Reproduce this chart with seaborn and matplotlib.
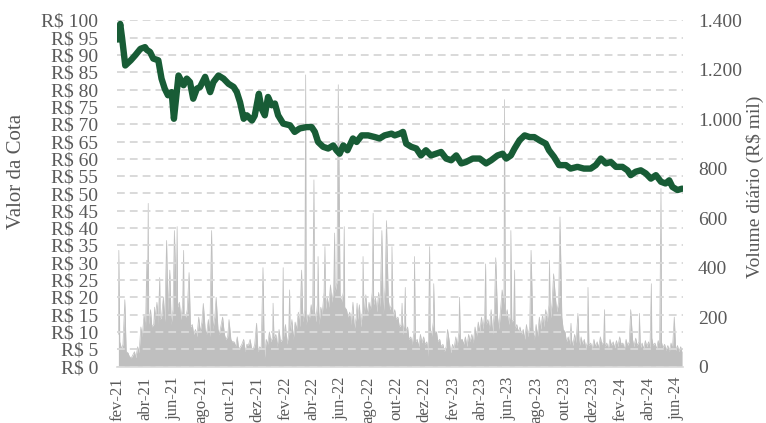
import numpy as np
import pandas as pd
import matplotlib
matplotlib.use("Agg")
import matplotlib.pyplot as plt
import seaborn as sns

# ---------------- data ----------------
price_dates = [
    "2021-02-01", "2021-02-06", "2021-02-10", "2021-02-17", "2021-03-01", "2021-03-11", "2021-03-22",
    "2021-04-01", "2021-04-05", "2021-04-12", "2021-04-19", "2021-04-30", "2021-05-07", "2021-05-14",
    "2021-05-21", "2021-05-29", "2021-06-03", "2021-06-13", "2021-06-24", "2021-07-01", "2021-07-08",
    "2021-07-15", "2021-07-23", "2021-07-30", "2021-08-10", "2021-08-21", "2021-08-28", "2021-09-08",
    "2021-09-19", "2021-09-30", "2021-10-11", "2021-10-18", "2021-10-25", "2021-11-02", "2021-11-09",
    "2021-11-20", "2021-11-26",
    "2021-12-05", "2021-12-11", "2021-12-18", "2021-12-25", "2022-01-02", "2022-01-09", "2022-01-16",
    "2022-01-27", "2022-02-11", "2022-02-21", "2022-03-04", "2022-03-19", "2022-03-30", "2022-04-06",
    "2022-04-13", "2022-04-24", "2022-05-05", "2022-05-16", "2022-05-23", "2022-05-30", "2022-06-07",
    "2022-06-16", "2022-06-28", "2022-07-06", "2022-07-17", "2022-07-31", "2022-08-15", "2022-08-25",
    "2022-09-05", "2022-09-20", "2022-09-27", "2022-10-08",
    "2022-10-15", "2022-10-22", "2022-11-02", "2022-11-13", "2022-11-23", "2022-12-04", "2022-12-15",
    "2022-12-26", "2023-01-06", "2023-01-17", "2023-01-28", "2023-02-08", "2023-02-19", "2023-03-01",
    "2023-03-16", "2023-03-31", "2023-04-14", "2023-04-25", "2023-05-09", "2023-05-20", "2023-05-28",
    "2023-06-07", "2023-06-15", "2023-06-26", "2023-07-07", "2023-07-18", "2023-07-28", "2023-08-08",
    "2023-08-15",
    "2023-08-22", "2023-08-29", "2023-09-09", "2023-09-20", "2023-10-05", "2023-10-15", "2023-10-30",
    "2023-11-13", "2023-11-28", "2023-12-09", "2023-12-20", "2023-12-31", "2024-01-11", "2024-01-22",
    "2024-02-05", "2024-02-16", "2024-02-23", "2024-03-05", "2024-03-16", "2024-03-27", "2024-04-07",
    "2024-04-18", "2024-04-29", "2024-05-09", "2024-05-17", "2024-05-24", "2024-06-04", "2024-06-14",
]
price_vals = [
    94.5, 99.0, 95.0, 87.0, 88.5, 90.0, 91.8, 92.3, 91.5, 90.9,
    89.0, 88.5, 83.2, 80.3, 78.4, 79.3, 71.6, 84.1, 81.3, 83.2,
    82.2, 77.4, 80.3, 80.8, 83.7, 79.3, 82.2, 84.1, 83.2, 81.7,
    80.8, 79.3, 76.4, 71.6, 72.6, 71.1, 72.5,
    78.8, 74.5, 72.6, 77.9, 75.5, 76.0, 72.6, 70.2, 69.7, 67.8,
    68.8, 69.2, 69.2, 67.8, 64.9, 63.5, 63.0, 63.9, 62.5, 61.5,
    63.9, 62.5, 65.9, 64.9, 66.8, 66.8, 66.3, 65.9, 66.8, 67.3,
    66.8, 67.3,
    67.8, 64.4, 63.5, 63.0, 61.0, 62.5, 61.0, 61.5, 62.0, 60.1,
    59.6, 61.0, 58.7, 59.1, 60.1, 60.1, 58.7, 59.6, 61.0, 61.5,
    60.1, 61.0, 63.0, 65.4, 66.8, 66.3, 66.3, 65.4, 64.9,
    64.4, 62.5, 60.6, 58.2, 58.2, 57.2, 57.7, 57.2, 57.2, 58.2,
    60.1, 58.7, 59.1, 57.7, 57.7, 56.7, 55.3, 56.3, 56.7, 55.8,
    54.3, 55.3, 53.4, 52.9, 53.8, 51.9, 51.0, 51.4,
]

# volume (R$ mil): one Friday value per week starting 2021-02-05
vol_fri_start = "2021-02-05"
vol_fri = [
    100, 90, 60, 40, 45, 35, 55, 120, 150, 170,
    160, 190, 170, 200, 180, 220, 170, 250, 240, 190,
    210, 230, 160, 130, 120, 140, 160, 130, 120, 150,
    160, 130, 150, 110, 90, 100, 80, 70, 90, 60,
    85, 75, 90, 60, 70, 30, 90, 100, 110, 80,
    100, 120, 90, 130, 110, 150, 160, 180, 170, 190,
    200, 180, 170, 210, 230, 240, 260, 300, 280, 260,
    240, 200, 170, 150, 190, 160, 200, 210, 230, 250,
    220, 240, 210, 260, 230, 200, 190, 160, 130, 140,
    110, 90, 100, 80, 95, 90, 40, 120, 140, 100,
    80, 60, 70, 55, 70, 85, 110, 90, 80, 100,
    95, 120, 140, 150, 170, 150, 130, 170, 150, 190,
    200, 170, 180, 150, 140, 130, 110, 120, 130, 110,
    120, 150, 160, 180, 190, 200, 220, 210, 150, 100,
    90, 85, 95, 80, 90, 75, 85, 70, 80, 75,
    90, 80, 70, 85, 75, 80, 90, 70, 85, 75,
    80, 85, 75, 70, 80, 75, 85, 70, 80, 75,
    65, 60, 70, 65, 60, 55,
]
# volume (R$ mil): one Tuesday value per week starting 2021-02-02
vol_tue_start = "2021-02-02"
vol_tue = [
    130, 70, 50, 55, 35, 60, 80, 160, 210, 190,
    230, 170, 260, 190, 280, 200, 300, 230, 270, 260,
    250, 200, 180, 170, 150, 200, 180, 150, 190, 170,
    200, 150, 170, 130, 120, 110, 100, 120, 80, 110,
    90, 110, 70, 100, 80, 60, 110, 140, 120, 130,
    150, 110, 170, 130, 190, 180, 220, 190, 230, 210,
    250, 230, 260, 240, 300, 280, 330, 310, 340, 290,
    300, 230, 220, 260, 200, 250, 230, 290, 260, 300,
    280, 300, 260, 320, 270, 250, 230, 200, 170, 180,
    160, 120, 140, 110, 130, 120, 100, 160, 180, 140,
    110, 90, 80, 100, 90, 120, 140, 110, 120, 130,
    130, 160, 180, 200, 210, 190, 170, 220, 200, 240,
    250, 230, 210, 190, 170, 160, 150, 170, 160, 150,
    170, 200, 210, 230, 250, 260, 280, 260, 200, 140,
    120, 110, 130, 100, 120, 110, 100, 95, 110, 100,
    120, 100, 95, 110, 100, 105, 120, 95, 110, 100,
    110, 115, 100, 95, 105, 100, 115, 95, 105, 100,
    90, 85, 95, 90, 85, 80,
]

# single-day volume peaks
spike_dates = [
    "2021-02-03", "2021-02-16", "2021-04-05", "2021-04-08", "2021-04-22", "2021-05-03", "2021-05-18",
    "2021-05-25", "2021-06-04", "2021-06-10", "2021-06-24", "2021-07-06", "2021-08-06", "2021-08-24",
    "2021-09-03", "2021-09-17", "2021-10-01", "2021-11-30", "2021-12-14", "2022-01-05", "2022-01-27",
    "2022-02-10", "2022-03-08", "2022-03-17", "2022-04-04", "2022-04-13", "2022-04-28", "2022-05-19",
    "2022-05-27", "2022-06-09", "2022-07-07", "2022-07-20", "2022-08-11", "2022-08-30", "2022-09-09",
    "2022-09-21",
    "2022-10-13", "2022-10-20", "2022-11-09", "2022-12-12", "2022-12-21", "2023-01-20", "2023-02-15",
    "2023-04-13", "2023-04-25", "2023-05-05", "2023-05-19", "2023-05-24", "2023-06-07", "2023-06-15",
    "2023-07-21", "2023-08-30", "2023-09-08", "2023-09-22", "2023-10-16", "2023-10-31", "2023-11-22",
    "2023-12-28", "2024-02-23", "2024-03-13", "2024-04-08", "2024-04-29", "2024-05-28",
]
spike_vals = [
    470, 270, 430, 660, 240, 360, 510, 390, 550, 566,
    470, 380, 255, 550, 280, 200, 190, 175, 400, 256,
    400, 310, 390, 1180, 755, 445, 485, 540, 1140, 566,
    256, 445, 620, 550, 590, 485,
    256, 320, 445, 485, 335, 150, 280, 415, 230, 440,
    310, 1080, 550, 390, 470, 430, 375, 605, 175, 215,
    320, 230, 230, 215, 335, 720, 200,
]

xtick_labels = ["fev-21", "abr-21", "jun-21", "ago-21", "out-21", "dez-21", "fev-22", "abr-22",
                "jun-22", "ago-22", "out-22", "dez-22", "fev-23", "abr-23", "jun-23", "ago-23",
                "out-23", "dez-23", "fev-24", "abr-24", "jun-24"]
left_ticks = list(range(0, 101, 5))
right_ticks = list(range(0, 1401, 200))

# ---------------- frames ----------------
price_df = pd.DataFrame({"date": pd.to_datetime(price_dates), "price": price_vals})
fri_df = pd.DataFrame({"date": pd.date_range(vol_fri_start, periods=len(vol_fri), freq="W-FRI"),
                       "vol": vol_fri})
tue_df = pd.DataFrame({"date": pd.date_range(vol_tue_start, periods=len(vol_tue), freq="W-TUE"),
                       "vol": vol_tue})
spike_df = pd.DataFrame({"date": pd.to_datetime(spike_dates), "vol": spike_vals})
vol_df = (pd.concat([fri_df, tue_df, spike_df])
          .groupby("date", as_index=False)["vol"].max()
          .sort_values("date"))

# ---------------- style ----------------
sns.set_style("white")
plt.rcParams["font.family"] = ["Liberation Serif", "DejaVu Serif"]
txt_color = "#595959"
green = "#185c36"
grey = "#bfbfbf"

fig = plt.figure(figsize=(7.66, 4.23), dpi=100)
ax = fig.add_axes([117 / 766, (423 - 366.5) / 423, 566 / 766, 346 / 423])
ax2 = ax.twinx()
ax.set_zorder(ax2.get_zorder() + 1)
ax.patch.set_visible(False)

# volume (right axis, behind)
ax2.fill_between(vol_df["date"], 0, vol_df["vol"], color=grey, linewidth=0)
sns.lineplot(data=vol_df, x="date", y="vol", ax=ax2, color=grey, linewidth=0.5)

# price (left axis, on top)
sns.lineplot(data=price_df, x="date", y="price", ax=ax, color=green, linewidth=4.6,
             solid_capstyle="round", solid_joinstyle="round")

# axes ranges
xmin, xmax = pd.Timestamp("2021-01-30"), pd.Timestamp("2024-06-16")
ax.set_xlim(xmin, xmax)
ax.set_ylim(0, 100)
ax2.set_ylim(0, 1400)

# ticks
ax.set_yticks(left_ticks)
ax.set_yticklabels([f"R$ {v}" for v in left_ticks])
ax2.set_yticks(right_ticks)
ax2.set_yticklabels([f"{v:,}".replace(",", ".") for v in right_ticks])
tick_dates = pd.date_range("2021-02-01", periods=len(xtick_labels), freq="2MS")
ax.set_xticks(tick_dates)
ax.set_xticklabels(xtick_labels, rotation=90, ha="center", va="top")

ax.tick_params(axis="y", length=0, pad=13.7, labelsize=14, labelcolor=txt_color)
ax.tick_params(axis="x", length=0, pad=7.5, labelsize=12, labelcolor=txt_color)
ax2.tick_params(axis="y", length=0, pad=10.8, labelsize=14, labelcolor=txt_color)

# grid
ax.yaxis.grid(True, color="#d9d9d9", linestyle=(0, (4, 2.6)), linewidth=1.4)
ax.xaxis.grid(False)
ax2.grid(False)

# spines
for s in ["top", "left", "right"]:
    ax.spines[s].set_visible(False)
ax.spines["bottom"].set_color("#d9d9d9")
ax.spines["bottom"].set_linewidth(1.2)
for s in ax2.spines.values():
    s.set_visible(False)

# labels
ax.set_xlabel("")
ax2.set_xlabel("")
ax.set_ylabel("Valor da Cota", color=txt_color, fontsize=15)
ax.yaxis.set_label_coords(-0.161, 0.565)
ax2.set_ylabel("Volume diário (R$ mil)", color=txt_color, fontsize=14)
ax2.yaxis.set_label_coords(1.111, 0.52)

fig.savefig("out.png", dpi=100)
